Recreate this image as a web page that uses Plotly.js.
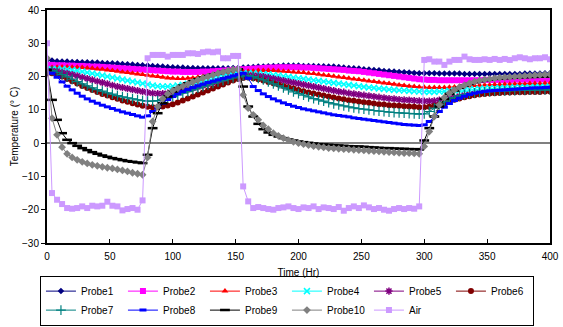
<!DOCTYPE html>
<html><head><meta charset="utf-8">
<script src="https://cdn.plot.ly/plotly-3.0.1.min.js"></script>
<style>html,body{margin:0;padding:0;background:#fff;}#chart{width:563px;height:327px;}</style>
</head><body><div id="chart"></div>
<script>
const timeHr = [0,4,8,12,16,20,24,28,32,36,40,44,48,52,56,60,64,68,72,76,
80,84,88,92,96,100,104,108,112,116,120,124,128,132,136,140,144,148,152,
156,160,164,168,172,176,180,184,188,192,196,200,204,208,212,216,220,224,228,232,236,240,244,248,252,256,260,264,268,272,276,280,284,288,292,296,
300,304,308,312,316,320,324,328,332,336,340,344,348,352,356,360,364,368,372,376,380,384,388,392,396,400];

const probe1 = [25,24.8,24.6,24.5,24.5,24.4,24.4,24.3,24.3,24.2,24.2,24.1,24.0,24.0,23.9,23.8,23.7,23.6,23.5,23.4,
23.3,23.2,23.1,23.0,22.9,22.8,22.7,22.7,22.6,22.6,22.5,22.5,22.5,22.5,22.5,22.5,22.5,22.6,22.6,
22.7,22.8,22.9,23.0,23.0,23.1,23.2,23.2,23.3,23.3,23.3,23.3,23.2,23.2,23.2,23.1,23.1,23.0,23.0,22.9,22.7,22.6,22.5,22.4,22.2,22.1,22.0,21.9,21.7,21.6,21.5,21.4,21.3,21.2,21.1,21.0,
21.0,21.0,21.0,20.9,20.9,20.9,20.9,20.9,20.8,20.8,20.8,20.8,20.8,20.8,20.8,20.8,20.8,20.8,20.8,20.8,20.9,20.9,20.9,20.9,21.0,21.0];

const probe2 = [23.5,23.5,23.4,23.4,23.3,23.3,23.2,23.2,23.1,23.0,23.0,22.9,22.8,22.7,22.6,22.5,22.4,22.3,22.2,22.1,
22.0,21.9,21.8,21.7,21.6,21.5,21.5,21.4,21.4,21.4,21.4,21.5,21.5,21.6,21.7,21.8,21.9,22.0,22.1,
22.2,22.3,22.4,22.5,22.6,22.7,22.7,22.8,22.8,22.8,22.8,22.8,22.7,22.7,22.6,22.5,22.4,22.3,22.2,22.1,22.0,21.8,21.7,21.6,21.4,21.2,21.0,20.8,20.6,20.4,20.2,20.0,19.8,19.6,19.4,19.2,
19.1,19.0,19.0,18.9,18.9,18.9,18.9,18.9,18.9,18.9,18.9,18.9,19.0,19.0,19.0,19.0,19.0,19.0,19.1,19.1,19.1,19.1,19.1,19.2,19.2,19.2];

const probe3 = [22.5,22.7,22.8,22.9,22.9,22.8,22.8,22.7,22.6,22.5,22.3,22.2,22.0,21.8,21.6,21.4,21.2,21.0,20.8,20.6,
20.4,20.2,20.0,19.8,19.6,19.5,19.4,19.4,19.5,19.6,19.8,20.0,20.2,20.4,20.6,20.8,21.0,21.2,21.4,
21.5,21.6,21.7,21.8,21.8,21.8,21.8,21.7,21.6,21.5,21.4,21.3,21.2,21.0,20.9,20.7,20.5,20.3,20.1,19.9,19.7,19.5,19.3,19.1,18.9,18.7,18.5,18.3,18.1,17.9,17.7,17.5,17.3,17.1,17.0,16.9,
16.8,16.7,16.7,16.7,16.7,16.8,16.9,17.0,17.1,17.2,17.3,17.4,17.5,17.5,17.6,17.6,17.7,17.7,17.8,17.8,17.8,17.9,17.9,17.9,18.0,18.0];

const probe4 = [22.0,22.2,22.3,22.3,22.2,22.0,21.8,21.5,21.2,20.9,20.6,20.3,20.0,19.7,19.4,19.1,18.8,18.5,18.2,17.9,
17.6,17.3,17.1,17.0,17.0,17.1,17.3,17.5,17.8,18.1,18.4,18.7,19.0,19.3,19.6,19.9,20.2,20.5,20.8,
21.0,21.0,21.0,20.9,20.8,20.7,20.5,20.3,20.1,19.9,19.7,19.5,19.3,19.1,18.9,18.7,18.5,18.3,18.1,17.9,17.7,17.5,17.3,17.1,16.9,16.7,16.6,16.4,16.3,16.1,16.0,15.9,15.8,15.7,15.6,15.5,
15.4,15.4,15.4,15.5,15.6,15.7,15.8,15.9,16.0,16.1,16.2,16.3,16.4,16.5,16.5,16.6,16.6,16.7,16.7,16.8,16.8,16.8,16.9,16.9,16.9,17.0];

const probe5 = [21.5,21.7,21.6,21.3,21.0,20.6,20.2,19.8,19.4,19.0,18.6,18.2,17.8,17.4,17.0,16.7,16.4,16.1,15.8,15.5,
15.2,15.0,14.9,14.9,15.0,15.2,15.5,15.8,16.1,16.5,16.9,17.3,17.7,18.1,18.5,18.9,19.3,19.7,20.0,
20.3,20.4,20.3,20.2,20.0,19.7,19.4,19.1,18.8,18.5,18.2,17.9,17.6,17.3,17.0,16.7,16.4,16.1,15.8,15.5,15.3,15.0,14.8,14.6,14.4,14.2,14.0,13.8,13.6,13.4,13.3,13.1,13.0,12.9,12.8,12.7,
12.6,12.6,12.7,12.9,13.2,13.5,13.8,14.1,14.4,14.6,14.8,15.0,15.2,15.3,15.4,15.5,15.6,15.7,15.7,15.8,15.8,15.9,15.9,15.9,16.0,16.0];

const probe6 = [21.0,21.0,20.6,20.0,19.3,18.6,17.9,17.2,16.6,16.0,15.4,14.8,14.3,13.8,13.3,12.8,12.4,12.0,11.6,11.2,
10.9,10.8,10.8,11.0,11.3,11.7,12.2,12.8,13.4,14.0,14.6,15.2,15.8,16.4,17.0,17.6,18.2,18.8,19.3,
19.6,19.7,19.5,19.2,18.8,18.4,18.0,17.6,17.2,16.8,16.4,16.0,15.6,15.2,14.9,14.6,14.3,14.0,13.7,13.4,13.2,12.9,12.7,12.5,12.3,12.1,11.9,11.7,11.6,11.4,11.3,11.2,11.1,11.0,10.9,10.8,
10.8,10.9,11.2,11.6,12.0,12.5,13.0,13.4,13.8,14.1,14.4,14.6,14.8,14.9,15.0,15.1,15.2,15.2,15.3,15.3,15.3,15.4,15.4,15.4,15.5,15.5];

const probe7 = [22.0,21.8,21.3,20.6,19.9,19.2,18.5,17.8,17.2,16.6,16.1,15.6,15.1,14.7,14.3,13.9,13.6,13.3,13.0,12.8,
12.6,12.6,12.8,13.1,13.5,14.0,14.5,15.0,15.5,16.0,16.5,17.0,17.5,18.0,18.4,18.8,19.2,19.6,19.9,
20.2,20.3,20.0,19.5,19.0,18.4,17.8,17.2,16.6,16.0,15.4,14.9,14.4,13.9,13.4,13.0,12.6,12.2,11.8,11.5,11.2,10.9,10.6,10.4,10.2,10.0,9.8,9.6,9.5,9.3,9.2,9.1,9.0,8.9,8.8,8.7,
8.8,9.5,10.5,11.5,12.4,13.1,13.7,14.2,14.6,14.9,15.1,15.3,15.4,15.5,15.6,15.7,15.7,15.8,15.8,15.9,15.9,15.9,16.0,16.0,16.0,16.0];

const probe8 = [22.0,21.0,19.8,18.4,17.1,16.0,15.0,14.1,13.3,12.6,12.0,11.4,10.9,10.4,9.9,9.4,9.0,8.6,8.2,7.8,
8.2,9.5,10.8,12.0,13.1,14.0,14.8,15.5,16.1,16.7,17.2,17.7,18.2,18.6,19.0,19.4,19.8,20.2,20.6,
21.0,19.5,17.0,15.8,14.8,14.0,13.3,12.7,12.1,11.6,11.1,10.7,10.3,10.0,9.7,9.4,9.1,8.8,8.5,8.3,8.1,7.9,7.6,7.4,7.2,7.0,6.8,6.6,6.4,6.2,6.0,5.8,5.6,5.5,5.4,5.3,
5.5,6.5,8.0,9.5,10.8,11.9,12.8,13.5,14.1,14.6,15.0,15.3,15.5,15.7,15.8,15.9,16.0,16.1,16.2,16.3,16.4,16.5,16.6,16.6,16.7,16.8];

const probe9 = [22.0,13.0,7.0,3.0,1.0,0.0,-0.8,-1.5,-2.1,-2.7,-3.2,-3.7,-4.1,-4.5,-4.8,-5.1,-5.4,-5.6,-5.8,-6.0,
-3.5,4.5,9.0,12.0,14.0,15.5,16.5,17.3,18.0,18.6,19.2,19.7,20.2,20.6,21.0,21.4,21.7,22.0,22.2,
17.0,11.0,8.0,5.8,4.2,3.2,2.5,2.0,1.5,1.1,0.8,0.5,0.3,0.1,-0.1,-0.3,-0.4,-0.5,-0.6,-0.7,-0.8,-0.9,-1.0,-1.0,-1.1,-1.2,-1.3,-1.4,-1.5,-1.5,-1.6,-1.7,-1.7,-1.8,-1.8,-1.9,
0.8,4.5,8.0,11.0,13.3,14.8,15.8,16.6,17.3,17.8,18.3,18.6,18.9,19.1,19.3,19.4,19.5,19.6,19.7,19.8,19.8,19.9,19.9,20.0,20.0,20.1];

const probe10 = [25.5,7.5,2.5,-1.2,-3.2,-4.3,-5.0,-5.6,-6.1,-6.5,-6.8,-7.1,-7.4,-7.6,-7.9,-8.2,-8.5,-8.9,-9.2,-9.5,
-4.3,6.5,11.0,13.3,14.8,15.8,16.5,17.1,17.8,18.4,19.0,19.5,20.0,20.5,21.0,21.4,21.8,22.1,22.3,
14.5,10.5,8.5,7.0,5.3,4.2,3.0,2.2,1.5,0.9,0.4,0.0,-0.3,-0.6,-0.9,-1.1,-1.3,-1.5,-1.6,-1.7,-1.8,-1.9,-2.0,-2.1,-2.2,-2.3,-2.4,-2.5,-2.6,-2.7,-2.8,-2.9,-3.0,-3.0,-3.1,-3.2,
-1.0,3.5,8.0,11.5,13.7,15.0,16.0,16.8,17.4,18.0,18.5,18.8,19.1,19.3,19.5,19.7,19.8,19.9,20.0,20.1,20.2,20.3,20.4,20.5,20.6,20.7];

const air = [30,-15.0,-17.0,-18.3,-19.5,-19.7,-19.5,-19.0,-19.5,-18.8,-19.0,-18.8,-17.6,-18.8,-19.0,-20.2,-19.8,-19.5,-20.0,-17.2,
25.5,26.5,26.5,26.5,26.0,26.5,26.5,26.5,27.0,27.0,26.8,27.3,27.5,27.3,27.5,25.5,25.5,26.2,26.2,
-13.0,-17.5,-19.5,-19.2,-19.5,-19.8,-20.0,-19.5,-19.3,-19.0,-19.5,-19.8,-19.3,-19.5,-19.0,-19.8,-19.3,-19.5,-19.8,-19.2,-20.3,-19.5,-19.0,-19.5,-18.7,-19.3,-19.8,-19.5,-20.0,-20.3,-19.8,-19.5,-19.8,-19.5,-19.7,-19.0,
25.0,25.2,24.5,24.5,23.5,24.5,25.0,25.0,26.0,25.2,25.0,25.0,25.2,25.0,25.3,25.0,25.3,25.0,25.5,25.8,25.5,25.2,25.5,25.5,25.8,25.2];

const seriesNames = ["Probe1","Probe2","Probe3","Probe4","Probe5","Probe6","Probe7","Probe8","Probe9","Probe10","Air"];
const seriesValues = [probe1,probe2,probe3,probe4,probe5,probe6,probe7,probe8,probe9,probe10,air];
const xTickVals = [0,50,100,150,200,250,300,350,400];
const yTickVals = [-30,-20,-10,0,10,20,30,40];

const styles = [
  {color:"#000080", symbol:"diamond", size:5},
  {color:"#FF00FF", symbol:"square", size:6},
  {color:"#FF0000", symbol:"triangle-up", size:6},
  {color:"#00FFFF", symbol:"x-thin-open", size:6, lw:1.5},
  {color:"#800080", symbol:"asterisk-open", size:6, lw:1.5},
  {color:"#800000", symbol:"circle", size:6},
  {color:"#008080", symbol:"cross-thin-open", size:7, lw:1.2},
  {color:"#0000FF", symbol:"line-ew-open", size:5, lw:3},
  {color:"#000000", symbol:"line-ew-open", size:7, lw:2.5},
  {color:"#808080", symbol:"diamond", size:6},
  {color:"#CC99FF", symbol:"square", size:6}
];

const traces = seriesNames.map((name,i)=>{
  const s = styles[i];
  const marker = {symbol:s.symbol, size:s.size, color:s.color};
  if (s.lw) marker.line = {color:s.color, width:s.lw};
  return {x:timeHr, y:seriesValues[i], name:name, type:"scatter", mode:"lines+markers",
    line:{color:s.color, width:1}, marker:marker};
});

const font = {family:"Liberation Sans, Arial, sans-serif", size:10, color:"#000"};
const layout = {
  width:563, height:327,
  margin:{l:47, r:13, t:10, b:84, autoexpand:false},
  paper_bgcolor:"#fff", plot_bgcolor:"#fff",
  font:font,
  showlegend:true,
  xaxis:{range:[0,400], tickvals:xTickVals, ticks:"inside", ticklen:4, tickcolor:"#000",
    showline:true, linecolor:"#000", linewidth:2, mirror:true, showgrid:false, zeroline:false,
    ticklabelstandoff:3,
    title:{text:"Time (Hr)", font:font, standoff:8}, tickfont:font, automargin:false},
  yaxis:{range:[-30,40], tickvals:yTickVals, ticks:"outside", ticklen:4, tickcolor:"#000",
    showline:true, linecolor:"#000", linewidth:2, mirror:true, showgrid:false,
    zeroline:true, zerolinecolor:"#808080", zerolinewidth:1.5,
    title:{text:"Temperature (° C)", font:font, standoff:2}, tickfont:font, automargin:false},
  legend:{orientation:"h", x:-0.014, xanchor:"left", y:-0.14, yanchor:"top",
    bordercolor:"#000", borderwidth:1, font:font, entrywidth:37, entrywidthmode:"pixels",
    traceorder:"normal", tracegroupgap:0, itemwidth:30}
};
Plotly.newPlot("chart", traces, layout, {staticPlot:true, displayModeBar:false});
</script>
</body></html>
